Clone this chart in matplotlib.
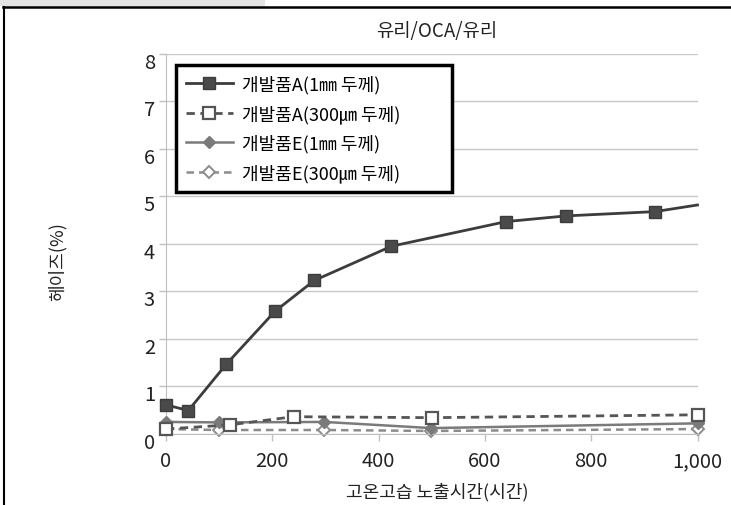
import matplotlib
matplotlib.use("Agg")
import matplotlib.pyplot as plt
from matplotlib.patches import Rectangle
from matplotlib.lines import Line2D
from matplotlib.ticker import FuncFormatter
from matplotlib.transforms import ScaledTranslation

plt.rcParams['font.family'] = ['Noto Sans CJK KR', 'DejaVu Sans']

# data
x_a1 = [0, 42, 113, 205, 279, 424, 640, 753, 920, 1000]
y_a1 = [0.61, 0.49, 1.46, 2.58, 3.23, 3.95, 4.47, 4.59, 4.68, 4.82]
x_a300 = [0, 121, 240, 500, 1000]
y_a300 = [0.10, 0.19, 0.36, 0.34, 0.40]
x_e1 = [0, 99, 298, 499, 1000]
y_e1 = [0.25, 0.24, 0.25, 0.12, 0.22]
x_e300 = [0, 99, 298, 499, 1000]
y_e300 = [0.10, 0.08, 0.08, 0.06, 0.10]
labels = ['개발품A(1㎜ 두께)', '개발품A(300㎛ 두께)', '개발품E(1㎜ 두께)', '개발품E(300㎛ 두께)']
title = '유리/OCA/유리'
xlabel = '고온고습 노출시간(시간)'
ylabel = '헤이즈(%)'
xticks = [0, 200, 400, 600, 800, 1000]
yticks = [0, 1, 2, 3, 4, 5, 6, 7, 8]

W, H = 731, 506
fig = plt.figure(figsize=(W / 100, H / 100), dpi=100)

# frame decorations
fig.patches.append(Rectangle((0, 1 - 7 / H), 265 / W, 7 / H, transform=fig.transFigure,
                             facecolor='#e4e4e4', edgecolor='none', zorder=0))
fig.lines.append(Line2D([3 / W, 1], [1 - 8 / H, 1 - 8 / H], transform=fig.transFigure,
                        color='black', lw=1.8))
fig.lines.append(Line2D([3.5 / W, 3.5 / W], [0, 1 - 8 / H], transform=fig.transFigure,
                        color='black', lw=1.5))

ax = fig.add_axes([166 / W, 1 - 434.8 / H, (697.5 - 166) / W, (434.8 - 55) / H])

ax.plot(x_a1, y_a1, color='#3c3c3c', lw=2.0, marker='s', ms=9, mfc='#4a4a4a', mec='#3c3c3c',
        markevery=list(range(len(x_a1) - 1)), label=labels[0], zorder=5, clip_on=False)
ax.plot(x_a300, y_a300, color='#555555', lw=2.0, ls=(0, (3, 2)), marker='s', ms=9, mfc='white',
        mec='#555555', mew=1.6, label=labels[1], zorder=4, clip_on=False)
ax.plot(x_e1, y_e1, color='#7a7a7a', lw=1.8, marker='D', ms=6.5, mfc='#7a7a7a', mec='#7a7a7a',
        label=labels[2], zorder=3, clip_on=False)
ax.plot(x_e300, y_e300, color='#8c8c8c', lw=1.8, ls=(0, (3, 2)), marker='D', ms=6.5, mfc='white',
        mec='#8c8c8c', mew=1.4, label=labels[3], zorder=2, clip_on=False)

ax.set_xlim(0, 1000)
ax.set_ylim(0, 8)
ax.set_xticks(xticks)
ax.set_yticks(yticks)
ax.xaxis.set_major_formatter(FuncFormatter(lambda v, p: f'{int(v):,}'))
ax.grid(axis='y', color='#c8c8c8', lw=1.0)
ax.set_axisbelow(True)
for s in ['top', 'right']:
    ax.spines[s].set_visible(False)
ax.spines['left'].set_color('#c0c0c0')
ax.spines['bottom'].set_color('#c0c0c0')
ax.tick_params(axis='both', colors='#c0c0c0', labelcolor='#222222', labelsize=14.5, length=5, width=1)
ax.tick_params(axis='y', pad=3)
ax.tick_params(axis='x', pad=7)
off = ScaledTranslation(0, -6 / 100, fig.dpi_scale_trans)
for lab in ax.get_yticklabels():
    lab.set_transform(lab.get_transform() + off)

fig.text(437 / W, 1 - 31 / H, title, ha='center', va='center', fontsize=13.5, color='#222222')
fig.text(437 / W, 1 - 492 / H, xlabel, ha='center', va='center', fontsize=13, color='#222222')
fig.text(57 / W, 1 - 262 / H, ylabel, ha='center', va='center', fontsize=13, color='#222222',
         rotation=90)

ax_h = 434.8 - 55
leg = ax.legend(loc='upper left', bbox_to_anchor=(10 / 531.5, 1 - 15 / ax_h, 276 / 531.5, 0.01),
                mode='expand', fontsize=13, frameon=True,
                fancybox=False, edgecolor='black', handlelength=2.6, handletextpad=0.5,
                borderpad=0.55, labelspacing=0.6, borderaxespad=0)
leg.get_frame().set_linewidth(2.5)
leg.get_frame().set_facecolor('white')
leg.get_frame().set_alpha(1)

fig.savefig('out.png', dpi=100)
